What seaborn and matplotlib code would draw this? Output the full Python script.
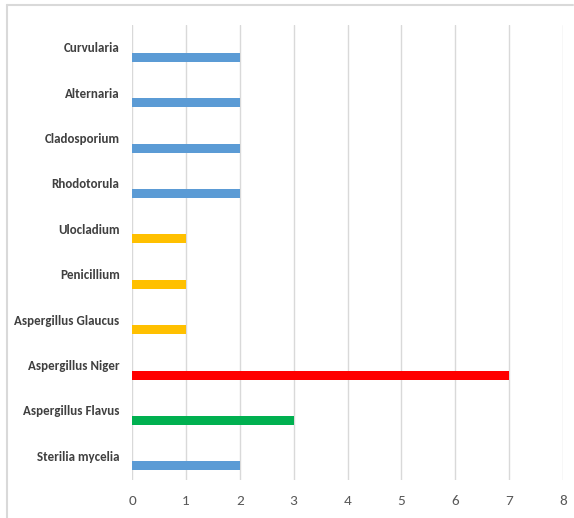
import matplotlib
matplotlib.use("Agg")
import matplotlib.pyplot as plt
import matplotlib.transforms as mtransforms
from matplotlib import font_manager
import seaborn as sns
import pandas as pd

# Isolate counts per genus / species
categories = [
    "Curvularia", "Alternaria", "Cladosporium", "Rhodotorula", "Ulocladium",
    "Penicillium", "Aspergillus Glaucus", "Aspergillus Niger",
    "Aspergillus Flavus", "Sterilia mycelia",
]
counts = [2, 2, 2, 2, 1, 1, 1, 7, 3, 2]
bar_colors = [
    "#5B9BD5", "#5B9BD5", "#5B9BD5", "#5B9BD5", "#FFC000",
    "#FFC000", "#FFC000", "#FF0000", "#00B050", "#5B9BD5",
]
x_ticks = [0, 1, 2, 3, 4, 5, 6, 7, 8]

sns.set_theme(style="white")
names = {f.name for f in font_manager.fontManager.ttflist}
preferred = ["Carlito", "Roboto Condensed", "Open Sans Condensed",
             "Liberation Sans Narrow", "Archivo Narrow", "PT Sans Narrow"]
family = next((n for n in preferred if n in names), "DejaVu Sans")
plt.rcParams["font.family"] = [family, "DejaVu Sans"]

df = pd.DataFrame({"genus": categories, "count": counts})

fig = plt.figure(figsize=(5.74, 5.18), dpi=100)
ax = fig.add_axes([0.23, 0.0734, 0.751, 0.8783])

sns.barplot(data=df, y="genus", x="count", hue="genus", palette=bar_colors,
            order=categories, hue_order=categories, legend=False,
            width=0.2, orient="h", saturation=1, linewidth=0, ax=ax)

ax.set_xlim(0, 8)
ax.set_ylim(9.31, -0.71)
ax.set_xticks(x_ticks)
ax.set_xticklabels([str(t) for t in x_ticks], color="#595959", fontsize=11)
ax.set_xlabel("")
ax.set_ylabel("")
ax.grid(axis="x", color="#D9D9D9", linewidth=1)
ax.grid(axis="y", visible=False)
ax.set_axisbelow(True)
for s in ax.spines.values():
    s.set_visible(False)
ax.tick_params(axis="both", length=0)
ax.tick_params(axis="x", pad=11)
ax.tick_params(axis="y", pad=9)

# Category labels sit above their bars
shift = mtransforms.ScaledTranslation(0, 7.3 / 72, fig.dpi_scale_trans)
for lbl in ax.get_yticklabels():
    lbl.set_fontsize(9.4)
    lbl.set_fontweight("bold")
    lbl.set_color("#404040")
    lbl.set_transform(lbl.get_transform() + shift)

# Chart frame edges
fig.add_artist(plt.Line2D([7 / 574, 573 / 574], [1 - 5 / 518, 1 - 5 / 518],
                          transform=fig.transFigure, color="#D9D9D9", linewidth=1.5))
fig.add_artist(plt.Line2D([7 / 574, 7 / 574], [0, 1 - 5 / 518],
                          transform=fig.transFigure, color="#D9D9D9", linewidth=1.5))

fig.savefig("out.png", dpi=100)
